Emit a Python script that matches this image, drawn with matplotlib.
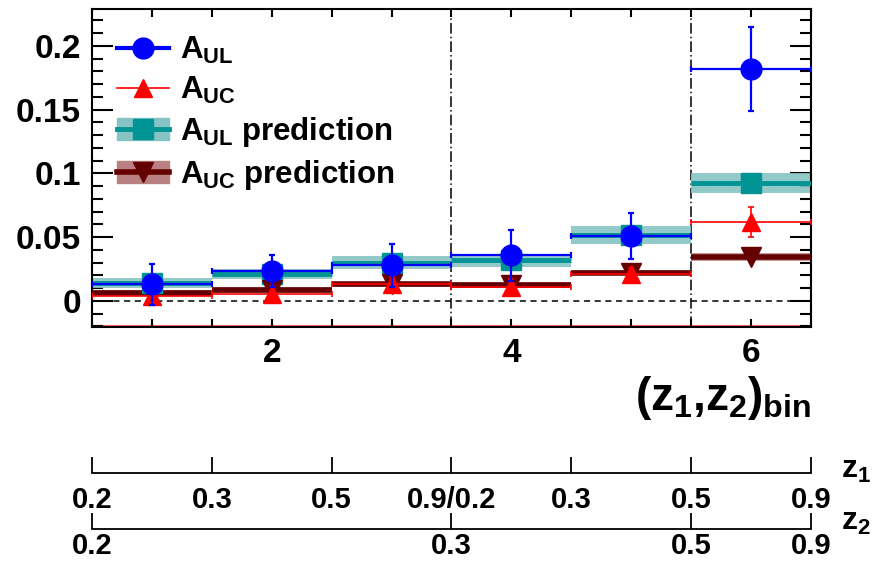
import matplotlib
matplotlib.use("Agg")
import matplotlib.pyplot as plt
from matplotlib.lines import Line2D
from matplotlib.patches import Patch
from matplotlib.ticker import MultipleLocator

# bins and measured values
bins = [1, 2, 3, 4, 5, 6]
aul = [0.013, 0.0235, 0.028, 0.036, 0.051, 0.182]
aul_err = [0.016, 0.0125, 0.017, 0.020, 0.018, 0.033]
auc = [0.004, 0.0055, 0.013, 0.011, 0.021, 0.062]
auc_err = [0.006, 0.006, 0.006, 0.006, 0.005, 0.012]
aul_pred = [0.014, 0.021, 0.030, 0.032, 0.052, 0.0925]
aul_pred_err = [0.004, 0.004, 0.005, 0.005, 0.007, 0.008]
auc_pred = [0.0063, 0.0086, 0.013, 0.0125, 0.022, 0.0345]
auc_pred_err = [0.002, 0.002, 0.002, 0.002, 0.002, 0.003]

y_ticks = [0, 0.05, 0.1, 0.15, 0.2]
y_tick_labels = ["0", "0.05", "0.1", "0.15", "0.2"]
x_ticks = [2, 4, 6]
x_tick_labels = ["2", "4", "6"]

z1_edges = [0.5, 1.5, 2.5, 3.5, 4.5, 5.5, 6.5]
z1_labels = ["0.2", "0.3", "0.5", "0.9/0.2", "0.3", "0.5", "0.9"]
z2_edges = [0.5, 3.5, 5.5, 6.5]
z2_labels = ["0.2", "0.3", "0.5", "0.9"]

teal = "#009494"
teal_band = "#86c4c4"
dred = "#640000"
dred_band = "#b88080"

plt.rcParams["font.family"] = ["Liberation Sans", "DejaVu Sans"]
plt.rcParams["font.weight"] = "bold"
plt.rcParams["mathtext.fontset"] = "custom"
plt.rcParams["mathtext.rm"] = "Liberation Sans:bold"
plt.rcParams["mathtext.it"] = "Liberation Sans:bold"
plt.rcParams["mathtext.bf"] = "Liberation Sans:bold"

fig = plt.figure(figsize=(8.72, 5.63), dpi=100)
ax = fig.add_axes([0.1055, 0.419, 0.8245, 0.565])

# prediction bands
ax.bar(bins, [2 * e for e in aul_pred_err], bottom=[v - e for v, e in zip(aul_pred, aul_pred_err)],
       width=1.0, color=teal_band, alpha=0.9, zorder=2)
ax.bar(bins, [2 * e for e in auc_pred_err], bottom=[v - e for v, e in zip(auc_pred, auc_pred_err)],
       width=1.0, color=dred_band, alpha=0.8, zorder=2)

# prediction central values
ax.errorbar(bins, aul_pred, xerr=0.5, fmt="s", color=teal, ms=14, lw=3.5, capsize=0, zorder=3)
ax.errorbar(bins, auc_pred, xerr=0.5, fmt="v", color=dred, ms=14, lw=4, capsize=0, zorder=3)

# data
ax.errorbar(bins, auc, xerr=0.5, yerr=auc_err, fmt="^", color="red", ms=13, lw=1.2,
            capsize=2.5, capthick=1.2, zorder=4)
ax.errorbar(bins, aul, xerr=0.5, yerr=aul_err, fmt="o", color="blue", ms=15, lw=1.6,
            capsize=2.5, capthick=1.6, zorder=5)

ax.axhline(0, color="black", ls=(0, (4, 3)), lw=1.1, zorder=1)
for xv in [3.5, 5.5]:
    ax.axvline(xv, color="black", ls=(0, (7, 2, 1, 2)), lw=1.1, zorder=1)

ax.set_xlim(0.5, 6.5)
ax.set_ylim(-0.0205, 0.229)
ax.axhline(-0.0205, color="red", lw=3, alpha=0.6, zorder=1)

ax.set_xticks(x_ticks)
ax.set_xticklabels(x_tick_labels)
ax.xaxis.set_minor_locator(MultipleLocator(0.5))
ax.set_yticks(y_ticks)
ax.set_yticklabels(y_tick_labels)
ax.yaxis.set_minor_locator(MultipleLocator(0.01))
ax.tick_params(which="both", direction="in", top=True, right=True, labelsize=24, width=1.5)
ax.tick_params(axis="x", which="both", length=6, pad=8)
ax.tick_params(axis="y", which="major", length=15, pad=8)
ax.tick_params(axis="y", which="minor", length=8)
for s in ax.spines.values():
    s.set_linewidth(1.5)

handles = [
    Line2D([], [], color="blue", marker="o", ms=15, lw=3),
    Line2D([], [], color="red", marker="^", ms=13, lw=1.2),
    (Patch(color=teal_band), Line2D([], [], color=teal, marker="s", ms=14, lw=3.5)),
    (Patch(color=dred_band), Line2D([], [], color=dred, marker="v", ms=14, lw=4)),
]
labels = [r"$A_{UL}$", r"$A_{UC}$", r"$A_{UL}$ prediction", r"$A_{UC}$ prediction"]
ax.legend(handles, labels, loc="upper left", bbox_to_anchor=(0.035, 0.92), frameon=False,
          fontsize=22.5, handlelength=1.65, handletextpad=0.35, labelspacing=0.29,
          borderpad=0, borderaxespad=0)

fig.text(811 / 872, 1 - 398 / 563, r"$(z_1{,}z_2)_{bin}$", ha="right", va="center", fontsize=33)

# z1 / z2 scales below
def scale_axis(ypos, edges, labels, pad):
    a = fig.add_axes([0.1055, ypos, 0.8245, 0.02])
    a.set_xlim(0.5, 6.5)
    a.set_ylim(0, 1)
    for side in ["top", "left", "right"]:
        a.spines[side].set_visible(False)
    a.spines["bottom"].set_linewidth(1.3)
    a.set_yticks([])
    a.set_xticks(edges)
    a.set_xticklabels(labels)
    a.tick_params(axis="x", direction="in", length=11.5, width=1.3, labelsize=21, pad=pad)
    a.patch.set_visible(False)
    return a

scale_axis(1 - 473 / 563, z1_edges, z1_labels, 9)
scale_axis(1 - 529 / 563, z2_edges, z2_labels, 2)
fig.text(841 / 872, 1 - 470 / 563, r"$z_1$", ha="left", va="center", fontsize=23)
fig.text(841 / 872, 1 - 522 / 563, r"$z_2$", ha="left", va="center", fontsize=23)

fig.savefig("out.png", dpi=100)
